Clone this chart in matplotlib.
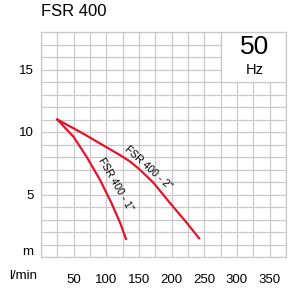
import matplotlib
matplotlib.use("Agg")
import matplotlib.pyplot as plt
import numpy as np

plt.rcParams['font.family'] = ['Liberation Sans', 'DejaVu Sans']

title = "FSR 400"
freq_big = "50"
freq_unit = "Hz"

# Curve FSR 400 - 2"
q2 = [25, 65, 95, 121, 136, 150, 172, 197, 222, 242]
h2 = [11.0, 9.86, 8.94, 8.15, 7.65, 7.05, 5.95, 4.35, 2.8, 1.5]
# Curve FSR 400 - 1"
q1 = [25, 50, 70, 90, 108, 121, 130]
h1 = [11.0, 9.6, 8.0, 6.2, 4.3, 2.75, 1.45]

xtick_vals = [50, 100, 150, 200, 250, 300, 350]
ytick_vals = [5, 10, 15]
label1 = 'FSR 400 - 1"'
label2 = 'FSR 400 - 2"'

xmax, ymax = 375, 18
red = '#e3132b'
grid_c = '#c9c9c9'

fig = plt.figure(figsize=(3.0, 2.9), dpi=100)
ax = fig.add_axes([41/300, 33/290, 245/300, 225/290])
ax.set_xlim(0, xmax)
ax.set_ylim(0, ymax)

ax.set_xticks(np.arange(0, xmax + 1, 25))
ax.set_xticklabels([str(v) if v in xtick_vals else '' for v in np.arange(0, xmax + 1, 25)])
ax.set_yticks(np.arange(0, ymax + 1, 1))
ax.set_yticklabels([str(v) if v in ytick_vals else '' for v in np.arange(0, ymax + 1, 1)])
ax.tick_params(length=0, labelsize=9.5)
ax.tick_params(axis='x', pad=12)
ax.tick_params(axis='y', pad=5)
ax.grid(True, color=grid_c, linewidth=0.9)
ax.set_axisbelow(True)
for s in ax.spines.values():
    s.set_color(grid_c)
    s.set_linewidth(0.9)

# white box for frequency
ax.add_patch(plt.Rectangle((275, 14), 100, 4, facecolor='white', edgecolor=grid_c,
                           linewidth=0.9, zorder=1.5))
ax.text(327, 16.8, freq_big, ha='center', va='center', fontsize=19, zorder=3)
ax.text(327, 15.0, freq_unit, ha='center', va='center', fontsize=10.5, zorder=3)

ax.plot(q2, h2, color=red, linewidth=1.6, zorder=2, solid_joinstyle='round')
ax.plot(q1, h1, color=red, linewidth=1.6, zorder=2, solid_joinstyle='round')

ax.text(114, 5.85, label1, rotation=-60, ha='center', va='center', fontsize=7.5, zorder=3,
        rotation_mode='anchor')
ax.text(164, 7.1, label2, rotation=-42, ha='center', va='center', fontsize=7.5, zorder=3,
        rotation_mode='anchor')

fig.text(41/300, 1 - 11/290, title, ha='left', va='center', fontsize=12)
fig.text(23/300, 1 - 276/290, 'l/min', ha='center', va='center', fontsize=9.5)
fig.text(33/300, 1 - 252/290, 'm', ha='right', va='center', fontsize=9.5)

fig.savefig('out.png', dpi=100)
